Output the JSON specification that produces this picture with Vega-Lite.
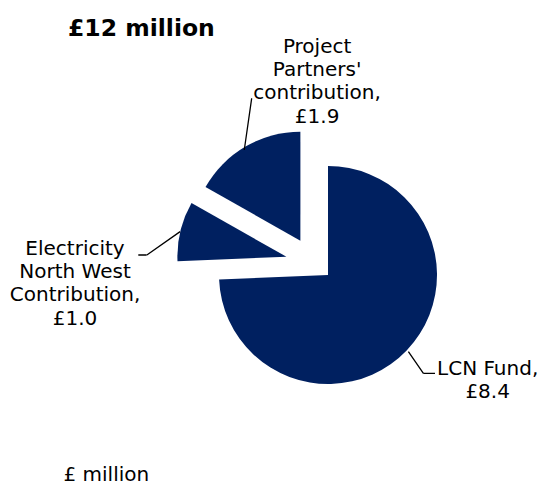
{
  "$schema": "https://vega.github.io/schema/vega-lite/v6.json",
  "autosize": {"type": "none"},
  "padding": {"left": 113, "top": 65, "right": 0, "bottom": 0},
  "width": 430,
  "height": 420,
  "background": "white",
  "config": {"view": {"stroke": null}, "font": "DejaVu Sans"},
  "title": {"text": "£12 million", "anchor": "start", "frame": "group", "fontSize": 23.5, "fontWeight": "bold", "font": "DejaVu Sans", "color": "#000000", "dx": -45, "offset": -4},
  "data": {"values": [
    {"category": "LCN Fund", "value": 8.4, "label": "LCN Fund,\n£8.4"},
    {"category": "Electricity North West Contribution", "value": 1.0, "label": "Electricity\nNorth West\nContribution,\n£1.0"},
    {"category": "Project Partners' contribution", "value": 1.9, "label": "Project\nPartners'\ncontribution,\n£1.9"}
  ]},
  "layer": [
    {
      "mark": {"type": "point", "opacity": 0},
      "encoding": {
        "x": {"field": "value", "type": "quantitative", "axis": {"title": "£ million", "labels": false, "ticks": false, "domain": false, "grid": false, "titleAnchor": "start", "titleAlign": "left", "titleBaseline": "alphabetic", "titleX": -50, "titleY": -5, "titleFontSize": 20, "titleFontWeight": "normal", "titleFont": "DejaVu Sans", "titleColor": "#000000"}}
      }
    },
    {
      "mark": {"type": "arc", "outerRadius": 109, "fill": "#002060"},
      "encoding": {
        "theta": {"field": "value", "type": "quantitative", "stack": true, "scale": {"range": [4.6707, 10.9539]}},
        "order": {"field": "value", "sort": "ascending"},
        "opacity": {"condition": {"test": "datum.category === 'LCN Fund'", "value": 1}, "value": 0}
      }
    },
    {
      "mark": {"type": "arc", "outerRadius": 109, "fill": "#002060", "xOffset": -41.6, "yOffset": -18.3},
      "encoding": {
        "theta": {"field": "value", "type": "quantitative", "stack": true},
        "order": {"field": "value", "sort": "ascending"},
        "opacity": {"condition": {"test": "datum.category === 'Electricity North West Contribution'", "value": 1}, "value": 0}
      }
    },
    {
      "mark": {"type": "arc", "outerRadius": 109, "fill": "#002060", "xOffset": -27.6, "yOffset": -34.3},
      "encoding": {
        "theta": {"field": "value", "type": "quantitative", "stack": true},
        "order": {"field": "value", "sort": "ascending"},
        "opacity": {"condition": {"test": "datum.category === \"Project Partners' contribution\"", "value": 1}, "value": 0}
      }
    },
    {
      "mark": {"type": "arc", "innerRadius": 109, "outerRadius": 135.3, "fill": "transparent", "stroke": "#000000", "strokeWidth": 1.3, "xOffset": 18.2, "yOffset": -12.8},
      "encoding": {
        "theta": {"datum": 7.458, "type": "quantitative"},
        "theta2": {"datum": 7.458},
        "strokeOpacity": {"condition": {"test": "datum.category === 'LCN Fund'", "value": 1}, "value": 0}
      }
    },
    {
      "mark": {"type": "arc", "innerRadius": 109, "outerRadius": 120.7, "fill": "transparent", "stroke": "#000000", "strokeWidth": 1.3, "xOffset": -13.7, "yOffset": 98.3},
      "encoding": {
        "theta": {"datum": 5.725, "type": "quantitative"},
        "theta2": {"datum": 5.725},
        "strokeOpacity": {"condition": {"test": "datum.category === 'LCN Fund'", "value": 1}, "value": 0}
      }
    },
    {
      "mark": {"type": "arc", "innerRadius": 109, "outerRadius": 149.6, "fill": "transparent", "stroke": "#000000", "strokeWidth": 1.3, "xOffset": -58.6, "yOffset": -105.9},
      "encoding": {
        "theta": {"datum": 10.276, "type": "quantitative"},
        "theta2": {"datum": 10.276},
        "strokeOpacity": {"condition": {"test": "datum.category === 'Electricity North West Contribution'", "value": 1}, "value": 0}
      }
    },
    {
      "mark": {"type": "arc", "innerRadius": 109, "outerRadius": 117.4, "fill": "transparent", "stroke": "#000000", "strokeWidth": 1.3, "xOffset": -72.3, "yOffset": -20},
      "encoding": {
        "theta": {"datum": 0.075, "type": "quantitative"},
        "theta2": {"datum": 0.075},
        "strokeOpacity": {"condition": {"test": "datum.category === 'Electricity North West Contribution'", "value": 1}, "value": 0}
      }
    },
    {
      "mark": {"type": "arc", "innerRadius": 109, "outerRadius": 161.2, "fill": "transparent", "stroke": "#000000", "strokeWidth": 1.3, "xOffset": -99.2, "yOffset": -17.1},
      "encoding": {
        "theta": {"datum": 3.156, "type": "quantitative"},
        "theta2": {"datum": 3.156},
        "strokeOpacity": {"condition": {"test": "datum.category === \"Project Partners' contribution\"", "value": 1}, "value": 0}
      }
    },
    {
      "mark": {"type": "text", "radius": 150, "align": "center", "baseline": "alphabetic", "dx": 51.4, "dy": -3.8, "fontSize": 20, "lineHeight": 23.3, "lineBreak": "\n", "color": "#000000"},
      "encoding": {
        "theta": {"field": "value", "type": "quantitative", "stack": true},
        "order": {"field": "value", "sort": "ascending"},
        "text": {"condition": {"test": "datum.category === 'LCN Fund'", "field": "label", "type": "nominal"}, "value": ""}
      }
    },
    {
      "mark": {"type": "text", "radius": 170, "align": "center", "baseline": "alphabetic", "dx": -87.7, "dy": 19.6, "fontSize": 20, "lineHeight": 23.3, "lineBreak": "\n", "color": "#000000"},
      "encoding": {
        "theta": {"field": "value", "type": "quantitative", "stack": true},
        "order": {"field": "value", "sort": "ascending"},
        "text": {"condition": {"test": "datum.category === 'Electricity North West Contribution'", "field": "label", "type": "nominal"}, "value": ""}
      }
    },
    {
      "mark": {"type": "text", "radius": 150, "align": "center", "baseline": "alphabetic", "dx": 64.7, "dy": -92.8, "fontSize": 20, "lineHeight": 23.3, "lineBreak": "\n", "color": "#000000"},
      "encoding": {
        "theta": {"field": "value", "type": "quantitative", "stack": true},
        "order": {"field": "value", "sort": "ascending"},
        "text": {"condition": {"test": "datum.category === \"Project Partners' contribution\"", "field": "label", "type": "nominal"}, "value": ""}
      }
    }
  ]
}
